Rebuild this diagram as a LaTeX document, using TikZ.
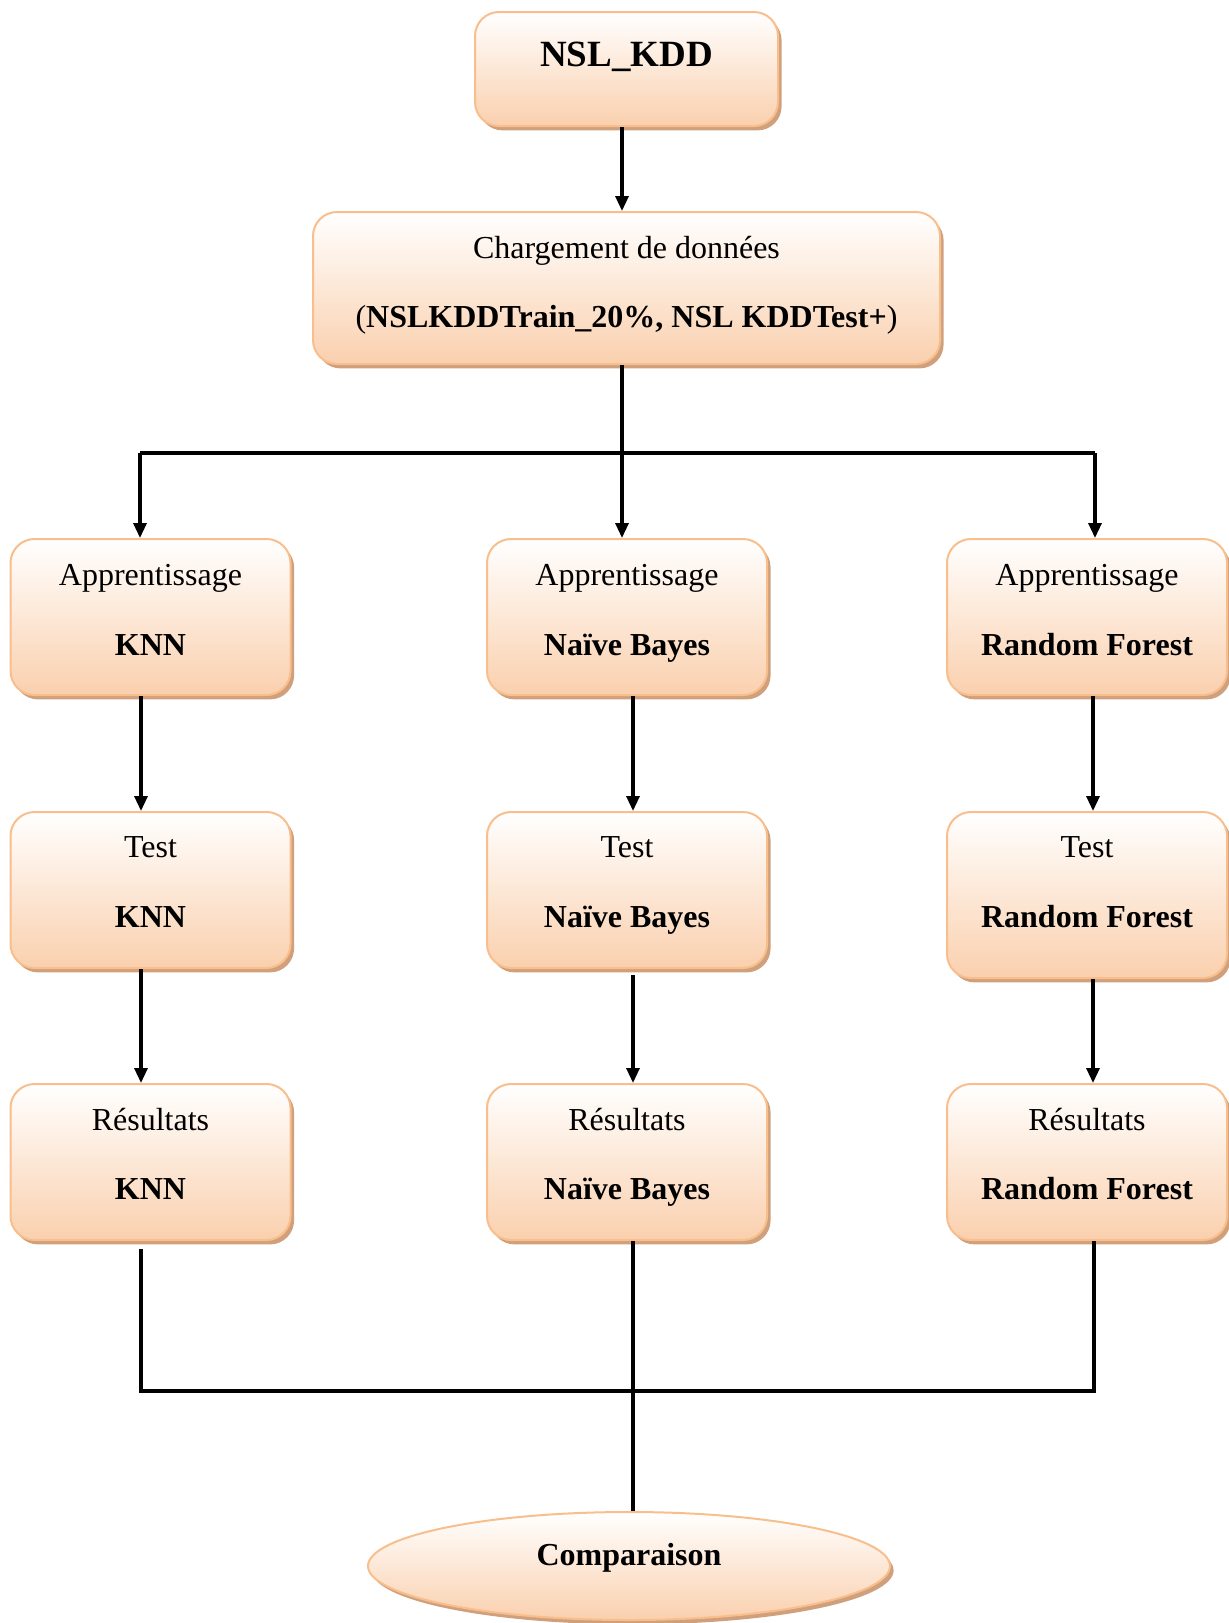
\documentclass[tikz,border=0pt]{standalone}
\usepackage{fontspec}
\setmainfont{Liberation Serif}
\usetikzlibrary{shapes.geometric,shadows,arrows.meta}

\definecolor{boxedge}{RGB}{248,190,140}
\definecolor{boxlow}{RGB}{250,208,174}
\definecolor{boxshadow}{RGB}{208,160,124}

\begin{document}
\begin{tikzpicture}[x=0.5pt,y=-0.5pt,
  panel/.style={draw=boxedge, line width=1pt, rounded corners=12pt,
    top color=white, bottom color=boxlow, inner sep=0pt,
    drop shadow={shadow xshift=1.8pt, shadow yshift=-2.2pt, fill=boxshadow, opacity=1}},
  oval/.style={ellipse, draw=boxedge, line width=1pt,
    top color=white, bottom color=boxlow, inner sep=0pt,
    drop shadow={shadow xshift=1.8pt, shadow yshift=-2.2pt, fill=boxshadow, opacity=1}},
  cell/.style={panel, minimum width=140pt, minimum height=78pt},
  txt/.style={font=\fontsize{16}{19}\selectfont, inner sep=0pt},
  btxt/.style={font=\fontsize{16}{19}\selectfont\bfseries, inner sep=0pt,
    text height=10.6pt, text depth=0pt},
  conn/.style={line width=1.6pt},
  arr/.style={conn, -{Triangle[length=7.5pt,width=6.5pt]}}
]
\useasboundingbox (0,0) rectangle (1228,1623);

% source and loading
\node[panel, minimum width=151.5pt, minimum height=57pt] (nsl) at (626.5,69) {};
\node[btxt, font=\fontsize{18.5}{22}\selectfont\bfseries, text height=12.2pt] (nslT) at (626.5,54) {NSL\_KDD};

\node[panel, minimum width=313.5pt, minimum height=76pt] (charg) at (626.5,288) {};
\node[txt] (chargA) at (626.5,251) {Chargement de données};
\node[txt] (chargB) at (626.5,320) {(\textbf{NSLKDDTrain\_20\%, NSL KDDTest+})};

% three columns: learning, test, results
\node[cell] (app1) at (150.5,617) {};
\node[cell] (app2) at (627,617) {};
\node[cell] (app3) at (1087,617) {};
\node[cell] (test1) at (150.5,890) {};
\node[cell] (test2) at (627,890) {};
\node[cell, minimum height=83pt] (test3) at (1087,895) {};
\node[cell] (res1) at (150.5,1162) {};
\node[cell] (res2) at (627,1162) {};
\node[cell] (res3) at (1087,1162) {};

\foreach \c/\x/\name in {1/150.5/KNN, 2/627/Naïve Bayes, 3/1087/Random Forest}{
  \node[txt] (appA\c) at (\x,578) {Apprentissage};
  \node[btxt] (appB\c) at (\x,645) {\name};
  \node[txt] (testA\c) at (\x,847) {Test};
  \node[btxt] (testB\c) at (\x,917) {\name};
  \node[txt] (resA\c) at (\x,1120) {Résultats};
  \node[btxt] (resB\c) at (\x,1189) {\name};
}

% comparison
\node[oval, minimum width=261pt, minimum height=54pt] (comp) at (629,1566) {};
\node[btxt] (compT) at (629,1555) {Comparaison};

% connector positions
\coordinate (split) at (622,453);
\coordinate (jL) at (140,453);
\coordinate (jR) at (1095,453);
\coordinate (cL) at (141,0);
\coordinate (cM) at (633,0);
\coordinate (cR) at (1093,0);
\coordinate (mL) at (141,1391);
\coordinate (mR) at (1094,1391);

\draw[arr] (nsl.south -| split) -- (charg.north -| split);
\draw[arr] (charg.south -| split) -- (app2.north -| split);
\draw[conn] (jL) -- (jR);
\draw[arr] (jL) -- (app1.north -| jL);
\draw[arr] (jR) -- (app3.north -| jR);

\draw[arr] (app1.south -| cL) -- (test1.north -| cL);
\draw[arr] (app2.south -| cM) -- (test2.north -| cM);
\draw[arr] (app3.south -| cR) -- (test3.north -| cR);
\draw[arr] (test1.south -| cL) -- (res1.north -| cL);
\draw[arr] ([yshift=-3pt]test2.south -| cM) -- (res2.north -| cM);
\draw[arr] (test3.south -| cR) -- (res3.north -| cR);

\draw[conn] ([yshift=-4pt]res1.south -| mL) -- (mL) -- (mR) -- (res3.south -| mR);
\draw[conn] (res2.south -| cM) -- (comp.north -| cM);
\end{tikzpicture}
\end{document}
